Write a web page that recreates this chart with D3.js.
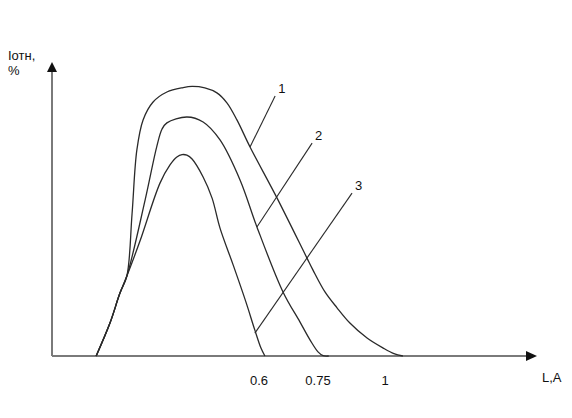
<!DOCTYPE html>
<html><head><meta charset="utf-8">
<script src="https://cdn.jsdelivr.net/npm/d3@7"></script>
<style>body{margin:0;background:#fff}svg{display:block}text{font-family:"Liberation Sans",Arial,sans-serif;font-size:13px;fill:#111}</style>
</head><body>
<svg id="c" width="572" height="418"></svg>
<script>
// Data (L in A, Iотн in %)
const xTicks = [0.6, 0.75, 1];
const xTickLabels = ["0.6", "0.75", "1"];
const seriesNames = ["1", "2", "3"];
const curve1L = [0.128,0.168,0.197,0.217,0.232,0.246,0.264,0.293,0.333,0.380,0.406,0.443,0.478,0.507,0.536,0.574,0.646,0.722,0.737,0.776,0.821,0.869,0.933,0.993,1.025,1.050];
const curve1I = [0,11.2,21.4,27.2,48.3,70.1,80.3,86.4,89.8,91.3,91.7,91.2,89.5,86.1,80.3,71.1,53.7,33.3,29.3,21.8,16.4,11.2,6.1,2.7,0.8,0];
const curve2L = [0.128,0.168,0.197,0.217,0.270,0.304,0.319,0.333,0.391,0.438,0.487,0.545,0.594,0.661,0.704,0.730,0.750,0.769,0.790];
const curve2I = [0,11.2,21.4,27.2,53.1,71.4,77.2,79.3,81.3,79.6,73.5,59.9,43.9,21.8,11.6,5.4,1.4,0.1,0];
const curve3L = [0.128,0.168,0.197,0.217,0.255,0.313,0.342,0.362,0.377,0.391,0.406,0.438,0.464,0.487,0.525,0.562,0.588,0.605,0.615];
const curve3I = [0,11.2,21.4,27.2,39.1,58.8,65.0,67.7,68.5,68.3,67.0,60.9,53.7,43.5,31.0,18.4,8.8,2.7,0];
// leader lines: [from L, from I, to L, to I]
const leader1 = [0.574, 71.1, 0.641, 88.4];
const leader2 = [0.594, 43.9, 0.735, 72.4];
const leader3 = [0.588, 7.8, 0.877, 55.4];

const svg = d3.select("#c");
const x = d3.scaleLinear().domain([0, 0.6, 0.75, 1, 1.4]).range([52, 259, 318, 385, 528]);
const y = d3.scaleLinear().domain([0, 100]).range([356, 62]);

const axisColor = "#7a7a7a";
// axes
svg.append("line").attr("x1", x(0)).attr("y1", y(0)).attr("x2", 527).attr("y2", y(0))
  .attr("stroke", axisColor).attr("stroke-width", 2);
svg.append("line").attr("x1", x(0)).attr("y1", y(0)).attr("x2", x(0)).attr("y2", 71)
  .attr("stroke", axisColor).attr("stroke-width", 2);
svg.append("path").attr("d", `M537,${y(0)}L526,${y(0)-5}L526,${y(0)+5}Z`).attr("fill", "#111");
svg.append("path").attr("d", `M${x(0)},62L${x(0)-5},72L${x(0)+5},72Z`).attr("fill", "#111");

const lineC = d3.line().x(d => x(d[0])).y(d => y(d[1])).curve(d3.curveCatmullRom.alpha(0.5));
[[curve1L, curve1I], [curve2L, curve2I], [curve3L, curve3I]].forEach(([L, I]) => {
  svg.append("path").attr("d", lineC(L.map((v, i) => [v, I[i]])))
    .attr("fill", "none").attr("stroke", "#2a2a2a").attr("stroke-width", 1.3);
});

[leader1, leader2, leader3].forEach((ld, i) => {
  svg.append("line").attr("x1", x(ld[0])).attr("y1", y(ld[1])).attr("x2", x(ld[2])).attr("y2", y(ld[3]))
    .attr("stroke", "#2a2a2a").attr("stroke-width", 1.1);
  svg.append("text").attr("x", x(ld[2]) + 3).attr("y", y(ld[3]) - 3).text(seriesNames[i]);
});

xTicks.forEach((t, i) => {
  svg.append("text").attr("x", x(t)).attr("y", 385).attr("text-anchor", "middle").text(xTickLabels[i]);
});
svg.append("text").attr("x", 542).attr("y", 382).text("L,A");
svg.append("text").attr("x", 8).attr("y", 60).text("Iотн,");
svg.append("text").attr("x", 8).attr("y", 75).text("%");
</script>
</body></html>
